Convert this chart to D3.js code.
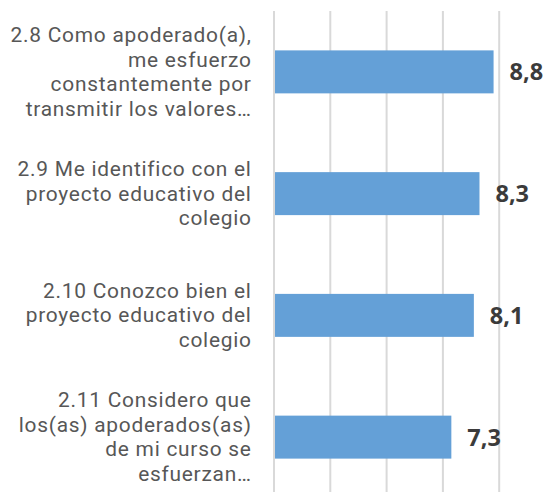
<!DOCTYPE html>
<html>
<head>
<meta charset="utf-8">
<script src="https://cdn.jsdelivr.net/npm/d3@7"></script>
<style>
  html, body { margin: 0; padding: 0; background: #fff; }
  svg { display: block; }
</style>
</head>
<body>
<svg id="chart" width="546" height="492"></svg>
<script>
const categories = ["2.8", "2.9", "2.10", "2.11"];
const categoryLabels = [
  ["2.8 Como apoderado(a),", "me esfuerzo", "constantemente por", "transmitir los valores…"],
  ["2.9 Me identifico con el", "proyecto educativo del", "colegio"],
  ["2.10 Conozco bien el", "proyecto educativo del", "colegio"],
  ["2.11 Considero que", "los(as) apoderados(as)", "de mi curso se", "esfuerzan…"]
];
const values = [8.8, 8.3, 8.1, 7.3];
const valueLabels = ["8,8", "8,3", "8,1", "7,3"];
const gridTicks = [1, 3, 5, 7, 9, 11];

const svg = d3.select("#chart");
const labelFont = "Roboto, 'Open Sans', sans-serif";
const valueFont = "'Open Sans', 'Noto Sans', sans-serif";

const x = d3.scaleLinear().domain([1, 11]).range([274, 555.5]);
const y = d3.scaleBand().domain(categories).range([11, 498])
  .paddingInner(0.647).paddingOuter(0.3235);

// gridlines
svg.append("g").selectAll("line").data(gridTicks).join("line")
  .attr("x1", d => x(d)).attr("x2", d => x(d))
  .attr("y1", 11).attr("y2", 498)
  .attr("stroke", "#d9d9d9").attr("stroke-width", 2);

// bars
svg.append("g").selectAll("rect").data(values).join("rect")
  .attr("x", x(1) + 1)
  .attr("y", (d, i) => y(categories[i]))
  .attr("width", d => x(d) - x(1) - 1)
  .attr("height", y.bandwidth())
  .attr("fill", "#64a0d7");

// value labels
svg.append("g").selectAll("text").data(values).join("text")
  .attr("x", d => x(d) + 16)
  .attr("y", (d, i) => y(categories[i]) + y.bandwidth() / 2)
  .attr("dy", "0.36em")
  .attr("font-family", valueFont)
  .attr("font-weight", "bold")
  .attr("font-size", 23.5)
  .attr("fill", "#3b3b3b")
  .text((d, i) => valueLabels[i]);

// category labels
const lh = 24.5;
const lab = svg.append("g").selectAll("text").data(categoryLabels).join("text")
  .attr("font-family", labelFont)
  .attr("font-size", 20.9)
  .attr("letter-spacing", 0.75)
  .attr("fill", "#575757")
  .attr("text-anchor", "end")
  .attr("transform", (d, i) => {
    const c = y(categories[i]) + y.bandwidth() / 2;
    const first = c - (d.length - 1) / 2 * lh + 7;
    return `translate(251.7,${first})`;
  });
lab.selectAll("tspan").data(d => d).join("tspan")
  .attr("x", 0)
  .attr("y", (d, i) => i * lh)
  .text(d => d);
</script>
</body>
</html>
